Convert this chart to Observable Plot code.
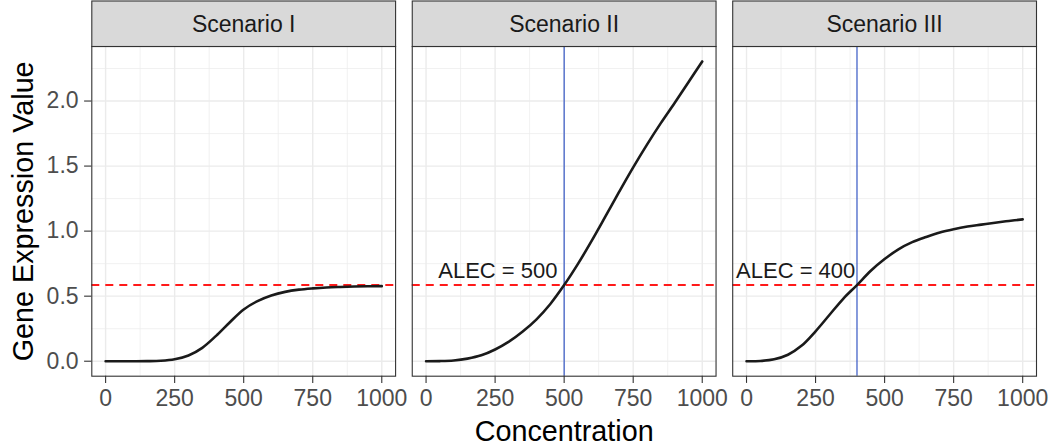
<!DOCTYPE html>
<html>
<head>
<meta charset="utf-8">
<script src="https://cdn.jsdelivr.net/npm/d3@7"></script>
<script src="https://cdn.jsdelivr.net/npm/@observablehq/plot@0.6"></script>
<style>
  html, body { margin: 0; padding: 0; background: #ffffff; }
  svg { display: block; }
</style>
</head>
<body>
<div id="chart"></div>
<script>
// ---------- data ----------
const scenarios = ["Scenario I", "Scenario II", "Scenario III"];
const concentration = [0, 50, 100, 150, 200, 250, 300, 350, 400, 450, 500,
                       550, 600, 650, 700, 750, 800, 850, 900, 950, 1000];
const scenarioI   = [0, 0, 0, 0.0006, 0.0035, 0.015, 0.044, 0.103, 0.195, 0.3, 0.398,
                     0.462, 0.505, 0.533, 0.55, 0.56, 0.567, 0.571, 0.574, 0.576, 0.577];
const scenarioII  = [0, 0.001, 0.006, 0.02, 0.045, 0.09, 0.15, 0.228, 0.322, 0.44, 0.585,
                     0.748, 0.927, 1.115, 1.305, 1.49, 1.665, 1.83, 1.985, 2.145, 2.304];
const scenarioIII = [0, 0.002, 0.015, 0.05, 0.12, 0.23, 0.355, 0.48, 0.585, 0.695, 0.785,
                     0.86, 0.915, 0.955, 0.99, 1.015, 1.035, 1.05, 1.065, 1.078, 1.09];
const threshold = 0.585;
const alecScenarios = ["Scenario II", "Scenario III"];
const alecValues = [500, 400];
const alecLabels = ["ALEC = 500", "ALEC = 400"];
const alecLabelX = [260, 178];
const alecLabelY = [0.697, 0.697];
const xTicks = [0, 250, 500, 750, 1000];
const xMinor = [125, 375, 625, 875];
const yTicks = [0, 0.5, 1, 1.5, 2];
const yMinor = [0.25, 0.75, 1.25, 1.75, 2.25];
const xTitle = "Concentration";
const yTitle = "Gene Expression Value";

// ---------- tables ----------
const series = [scenarioI, scenarioII, scenarioIII];
const rows = [];
scenarios.forEach((s, i) => concentration.forEach((c, j) => rows.push({scenario: s, conc: c, value: series[i][j]})));
const alec = alecScenarios.map((s, i) => ({scenario: s, value: alecValues[i], label: alecLabels[i], lx: alecLabelX[i], ly: alecLabelY[i]}));

const FONT = "'Liberation Sans', Arial, Helvetica, sans-serif";
const W = 1058, H = 448;

const chart = Plot.plot({
  width: W, height: H,
  marginLeft: 91.3, marginRight: 22, marginTop: 46, marginBottom: 72.3,
  style: {fontFamily: FONT, fontSize: "23px", background: "#ffffff", color: "#333333", overflow: "visible"},
  x: {domain: [-50, 1050]},
  y: {domain: [-0.1152, 2.4192]},
  fx: {domain: scenarios, paddingInner: 0.052, paddingOuter: 0, round: false, axis: null, label: null},
  marks: [
    Plot.gridX(xMinor, {stroke: "#ebebeb", strokeOpacity: 1, strokeWidth: 0.7}),
    Plot.gridY(yMinor, {stroke: "#ebebeb", strokeOpacity: 1, strokeWidth: 0.7}),
    Plot.gridX(xTicks, {stroke: "#ebebeb", strokeOpacity: 1, strokeWidth: 1.4}),
    Plot.gridY(yTicks, {stroke: "#ebebeb", strokeOpacity: 1, strokeWidth: 1.4}),
    Plot.ruleX(alec, {x: "value", fx: "scenario", stroke: "#3557c4", strokeWidth: 1.2}),
    Plot.ruleY([threshold], {stroke: "#ff1a1a", strokeWidth: 2, strokeDasharray: "8,6"}),
    Plot.line(rows, {x: "conc", y: "value", fx: "scenario", stroke: "#1a1a1a", strokeWidth: 2.6, curve: "catmull-rom"}),
    Plot.text(alec, {x: "lx", y: "ly", fx: "scenario", text: "label", fontSize: 22, fill: "#1a1a1a", fontFamily: FONT}),
    Plot.frame({stroke: "#333333", strokeWidth: 1.1}),
    Plot.axisX(xTicks, {anchor: "bottom", tickSize: 7.2, tickPadding: 6, stroke: "#333333", strokeWidth: 1.1,
                        fill: "#4d4d4d", fontSize: 23, label: null, tickFormat: d => String(d)}),
    Plot.axisY(yTicks, {anchor: "left", tickSize: 7.2, tickPadding: 6, stroke: "#333333", strokeWidth: 1.1,
                        fill: "#4d4d4d", fontSize: 23, label: null, tickFormat: d3.format(".1f")})
  ]
});
document.getElementById("chart").appendChild(chart);

// ---------- strips & titles (positioned from the rendered facet frames) ----------
const svg = d3.select(chart);
const svgBox = chart.getBoundingClientRect();
const frames = Array.from(chart.querySelectorAll('g[aria-label="frame"] rect'))
  .map(r => r.getBoundingClientRect())
  .map(b => ({x0: b.left - svgBox.left, x1: b.right - svgBox.left, y0: b.top - svgBox.top, y1: b.bottom - svgBox.top}))
  .sort((a, b) => a.x0 - b.x0);

const stripTop = 1;
frames.forEach((f, i) => {
  svg.append("rect")
    .attr("x", f.x0).attr("y", stripTop)
    .attr("width", f.x1 - f.x0).attr("height", f.y0 - stripTop)
    .attr("fill", "#d9d9d9").attr("stroke", "#333333").attr("stroke-width", 1.1);
  svg.append("text")
    .attr("x", (f.x0 + f.x1) / 2).attr("y", (stripTop + f.y0) / 2)
    .attr("text-anchor", "middle").attr("dy", "0.35em")
    .attr("font-family", FONT).attr("font-size", 23).attr("fill", "#1a1a1a")
    .text(scenarios[i]);
});

if (frames.length) {
  const left = frames[0].x0, right = frames[frames.length - 1].x1;
  const top = frames[0].y0, bottom = frames[0].y1;
  svg.append("text")
    .attr("x", (left + right) / 2).attr("y", 441)
    .attr("text-anchor", "middle")
    .attr("font-family", FONT).attr("font-size", 28.75).attr("fill", "#000000")
    .text(xTitle);
  svg.append("text")
    .attr("transform", `translate(33,${(top + bottom) / 2}) rotate(-90)`)
    .attr("text-anchor", "middle")
    .attr("font-family", FONT).attr("font-size", 28.75).attr("fill", "#000000")
    .text(yTitle);
}
</script>
</body>
</html>
